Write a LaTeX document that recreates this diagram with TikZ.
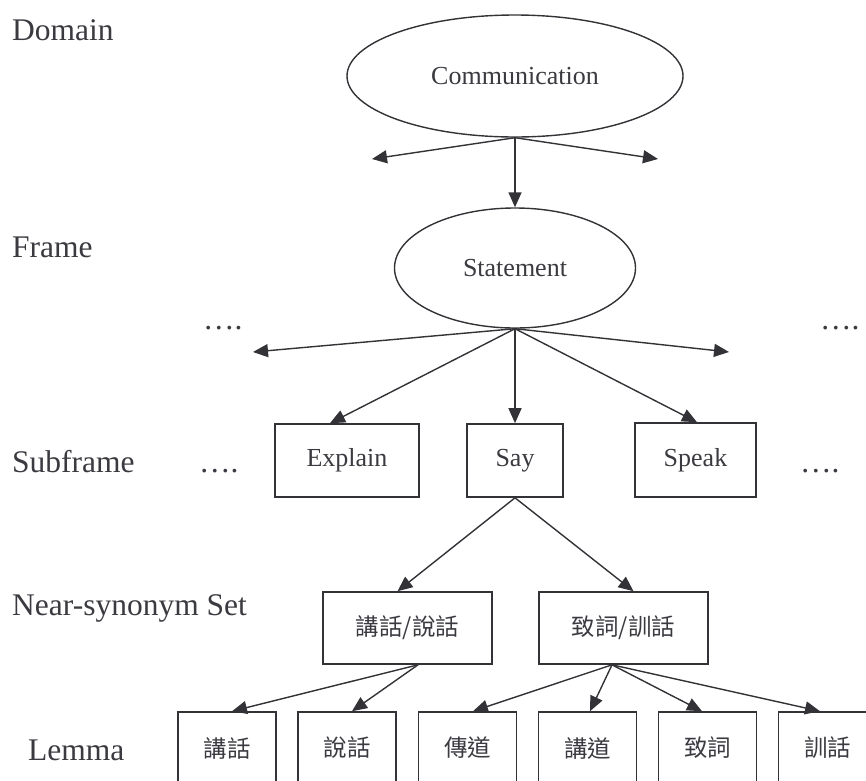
\documentclass[tikz,border=0pt]{standalone}
\usepackage{fontspec}
\setmainfont{Liberation Serif}
\newfontfamily\cjk{Noto Sans CJK TC}
\usetikzlibrary{shapes.geometric,arrows.meta}
\definecolor{ln}{RGB}{50,50,55}
\definecolor{tx}{RGB}{58,58,64}
\begin{document}
\begin{tikzpicture}[x=1pt,y=-1pt,
  lbl/.style={font=\fontsize{31.5}{36}\selectfont, text=tx, anchor=base west, inner sep=0pt},
  ell/.style={ellipse, draw=ln, line width=1.4pt, inner sep=0pt, font=\fontsize{26}{30}\selectfont, text=tx},
  stepbox/.style={rectangle, draw=ln, line width=1.6pt, inner sep=0pt, font=\fontsize{26}{30}\selectfont, text=tx},
  cbox/.style={stepbox, font=\cjk\fontsize{23.5}{28}\selectfont},
  conn/.style={draw=ln, line width=1.4pt, -{Triangle[length=15pt,width=13pt]}}]
\clip (0,0) rectangle (866,780);
% level labels
\node[lbl] (dom) at (12,40) {Domain};
\node[lbl] (frm) at (12,257) {Frame};
\node[lbl] (sub) at (12,472) {Subframe};
\node[lbl] (nss) at (12,615) {Near-synonym Set};
\node[lbl] (lem) at (28,760) {Lemma};
% dots
\node[lbl] (dfl) at (203,329) {….};
\node[lbl] (dfr) at (820,329) {….};
\node[lbl] (dsl) at (199,472) {….};
\node[lbl] (dsr) at (800,472) {….};
% main nodes
\node[ell, minimum width=336pt, minimum height=122pt] (comm) at (515,76) {Communication};
\node[ell, minimum width=241pt, minimum height=120pt] (stmt) at (515,268) {Statement};
\node[stepbox, minimum width=144pt, minimum height=73pt] (expl) at (347,460.5) {Explain};
\node[stepbox, minimum width=96pt, minimum height=73pt] (say) at (515,460.5) {Say};
\node[stepbox, minimum width=121pt, minimum height=74pt] (speak) at (695.5,460) {Speak};
\node[cbox, minimum width=169pt, minimum height=72pt] (ns1) at (407.5,628) {講話/說話};
\node[cbox, minimum width=169pt, minimum height=72pt] (ns2) at (623.5,628) {致詞/訓話};
\node[cbox, minimum width=98pt, minimum height=72pt] (l1) at (227,748) {講話};
\node[cbox, minimum width=98pt, minimum height=72pt] (l2) at (347,748) {說話};
\node[cbox, minimum width=98pt, minimum height=72pt] (l3) at (467.5,748) {傳道};
\node[cbox, minimum width=98pt, minimum height=72pt] (l4) at (587.5,748) {講道};
\node[cbox, minimum width=98pt, minimum height=72pt] (l5) at (707.5,748) {致詞};
\node[cbox, minimum width=98pt, minimum height=72pt] (l6) at (827.5,748) {訓話};
% free ends
\coordinate (cl) at (372,159);
\coordinate (cr) at (658,159);
\coordinate (sl) at (253,352);
\coordinate (sr) at (729,352);
% connectors
\draw[conn] (comm.south) -- (cl);
\draw[conn] (comm.south) -- (cr);
\draw[conn] (comm.south) -- (stmt.north);
\draw[conn] (stmt.south) -- (sl);
\draw[conn] (stmt.south) -- (sr);
\draw[conn] (stmt.south) -- ([xshift=-17pt]expl.north);
\draw[conn] (stmt.south) -- (say.north);
\draw[conn] (stmt.south) -- ([xshift=1.5pt]speak.north);
\draw[conn] (say.south) -- ([xshift=-10pt]ns1.north);
\draw[conn] (say.south) -- ([xshift=10pt]ns2.north);
\draw[conn] ([xshift=10.5pt]ns1.south) -- ([xshift=5pt]l1.north);
\draw[conn] ([xshift=10.5pt]ns1.south) -- ([xshift=5pt]l2.north);
\draw[conn] ([xshift=-11.5pt]ns2.south) -- ([xshift=5.5pt]l3.north);
\draw[conn] ([xshift=-11.5pt]ns2.south) -- ([xshift=2.5pt]l4.north);
\draw[conn] ([xshift=-11.5pt]ns2.south) -- ([xshift=-5.5pt]l5.north);
\draw[conn] ([xshift=-11.5pt]ns2.south) -- ([xshift=-7.5pt]l6.north);
\end{tikzpicture}
\end{document}
